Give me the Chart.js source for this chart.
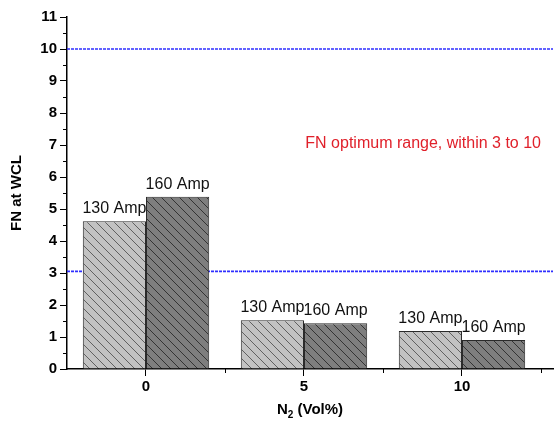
<!DOCTYPE html>
<html>
<head>
<meta charset="utf-8">
<script src="https://cdn.jsdelivr.net/npm/chart.js@4.4.1/dist/chart.umd.min.js"></script>
<style>
  html, body { margin: 0; padding: 0; background: #fff; }
  #wrap { width: 555px; height: 435px; }
</style>
</head>
<body>
<div id="wrap"><canvas id="grafico"></canvas></div>
<script>
// datos
const nitrogeno = [0, 5, 10];
const serie130 = [4.62, 1.52, 1.19];
const serie160 = [5.38, 1.43, 0.91];
const nombres = ['130 Amp', '160 Amp'];
const lineasLimite = [10, 3.05];
const ticksY = [0, 1, 2, 3, 4, 5, 6, 7, 8, 9, 10, 11];
const nota = 'FN optimum range, within 3 to 10';

const fuente = "'Liberation Sans', Arial, sans-serif";

// rayado diagonal para las barras
function rayado(fondo, linea) {
  const c = document.createElement('canvas');
  const s = 9;
  c.width = s; c.height = s;
  const g = c.getContext('2d');
  g.fillStyle = fondo;
  g.fillRect(0, 0, s, s);
  g.strokeStyle = linea;
  g.lineWidth = 0.9;
  g.beginPath();
  g.moveTo(-1, -1); g.lineTo(s + 1, s + 1);
  g.moveTo(-2, s - 2); g.lineTo(2, s + 2);
  g.moveTo(s - 2, -2); g.lineTo(s + 2, 2);
  g.stroke();
  return g.createPattern(c, 'repeat');
}

// lineas azules, texto rojo, marcas menores y etiquetas de barras
const extras = {
  id: 'extras',
  beforeDatasetsDraw(chart) {
    const {ctx, chartArea, scales: {y}} = chart;
    ctx.save();
    ctx.strokeStyle = '#2f2fff';
    ctx.lineWidth = 1.6;
    ctx.setLineDash([3, 1]);
    lineasLimite.forEach(v => {
      const py = y.getPixelForValue(v);
      ctx.beginPath();
      ctx.moveTo(chartArea.left, py);
      ctx.lineTo(chartArea.right, py);
      ctx.stroke();
    });
    ctx.restore();
  },
  afterDraw(chart) {
    const {ctx, chartArea, scales: {x, y}} = chart;
    ctx.save();
    // marcas menores
    ctx.strokeStyle = '#000';
    ctx.lineWidth = 1;
    ctx.beginPath();
    for (let v = 0.5; v < 11; v += 1) {
      const py = Math.round(y.getPixelForValue(v)) + 0.5;
      ctx.moveTo(chartArea.left - 4, py);
      ctx.lineTo(chartArea.left, py);
    }
    [2.5, 7.5, 12.5].forEach(v => {
      const px = Math.round(x.getPixelForValue(v)) + 0.5;
      ctx.moveTo(px, chartArea.bottom);
      ctx.lineTo(px, chartArea.bottom + 4);
    });
    ctx.stroke();

    // etiquetas sobre las barras
    ctx.fillStyle = '#111';
    ctx.font = '16px ' + fuente;
    ctx.textAlign = 'center';
    ctx.textBaseline = 'alphabetic';
    chart.data.datasets.forEach((ds, i) => {
      chart.getDatasetMeta(i).data.forEach(bar => {
        ctx.fillText(nombres[i], bar.x, bar.y - 8);
      });
    });

    // nota en rojo
    ctx.fillStyle = '#e0202a';
    ctx.font = '16px ' + fuente;
    ctx.textAlign = 'right';
    ctx.textBaseline = 'middle';
    ctx.fillText(nota, x.getPixelForValue(12.5), y.getPixelForValue(7.05));

    // titulo del eje x con subindice
    const cx = (chartArea.left + chartArea.right) / 2;
    const ty = 410;
    ctx.fillStyle = '#000';
    ctx.textAlign = 'left';
    ctx.textBaseline = 'middle';
    const fb = 'bold 15px ' + fuente;
    const fs = 'bold 10px ' + fuente;
    ctx.font = fb;
    const w1 = ctx.measureText('N').width;
    const w3 = ctx.measureText(' (Vol%)').width;
    ctx.font = fs;
    const w2 = ctx.measureText('2').width;
    let px = cx - (w1 + w2 + w3) / 2;
    ctx.font = fb;
    ctx.fillText('N', px, ty);
    px += w1;
    ctx.font = fs;
    ctx.fillText('2', px, ty + 5);
    px += w2;
    ctx.font = fb;
    ctx.fillText(' (Vol%)', px, ty);
    ctx.restore();
  }
};

const ctx = document.getElementById('grafico');
new Chart(ctx, {
  type: 'bar',
  data: {
    datasets: [
      {
        label: nombres[0],
        data: nitrogeno.map((n, i) => ({x: n, y: serie130[i]})),
        backgroundColor: rayado('#c2c2c2', '#555555'),
        borderColor: '#2a2a2a',
        borderWidth: 1
      },
      {
        label: nombres[1],
        data: nitrogeno.map((n, i) => ({x: n, y: serie160[i]})),
        backgroundColor: rayado('#7e7e7e', '#2a2a2a'),
        borderColor: '#2a2a2a',
        borderWidth: 1
      }
    ]
  },
  options: {
    responsive: true,
    maintainAspectRatio: false,
    animation: false,
    categoryPercentage: 0.8,
    barPercentage: 1,
    layout: { padding: { top: 17, right: 2, left: 0, bottom: 0 } },
    plugins: { legend: { display: false }, tooltip: { enabled: false } },
    scales: {
      x: {
        type: 'linear',
        min: -2.5,
        max: 12.88,
        offset: false,
        afterBuildTicks: s => { s.ticks = nitrogeno.map(v => ({value: v})); },
        afterFit: s => { s.height = 66; },
        grid: { display: true, drawOnChartArea: false, tickLength: 7, tickColor: '#000', offset: false },
        border: { display: true, color: '#000', width: 1.5 },
        ticks: {
          color: '#000',
          padding: 2,
          font: { family: fuente, size: 15, weight: 'bold' },
          callback: v => String(v)
        }
      },
      y: {
        min: 0,
        max: 11,
        afterBuildTicks: s => { s.ticks = ticksY.map(v => ({value: v})); },
        afterFit: s => { s.width = 67; },
        grid: { display: true, drawOnChartArea: false, tickLength: 7, tickColor: '#000' },
        border: { display: true, color: '#000', width: 1.5 },
        ticks: {
          color: '#000',
          padding: 3,
          font: { family: fuente, size: 15, weight: 'bold' }
        },
        title: {
          display: true,
          text: 'FN at WCL',
          color: '#000',
          padding: { top: 8, bottom: 0 },
          font: { family: fuente, size: 15, weight: 'bold' }
        }
      }
    }
  },
  plugins: [extras]
});
</script>
</body>
</html>
